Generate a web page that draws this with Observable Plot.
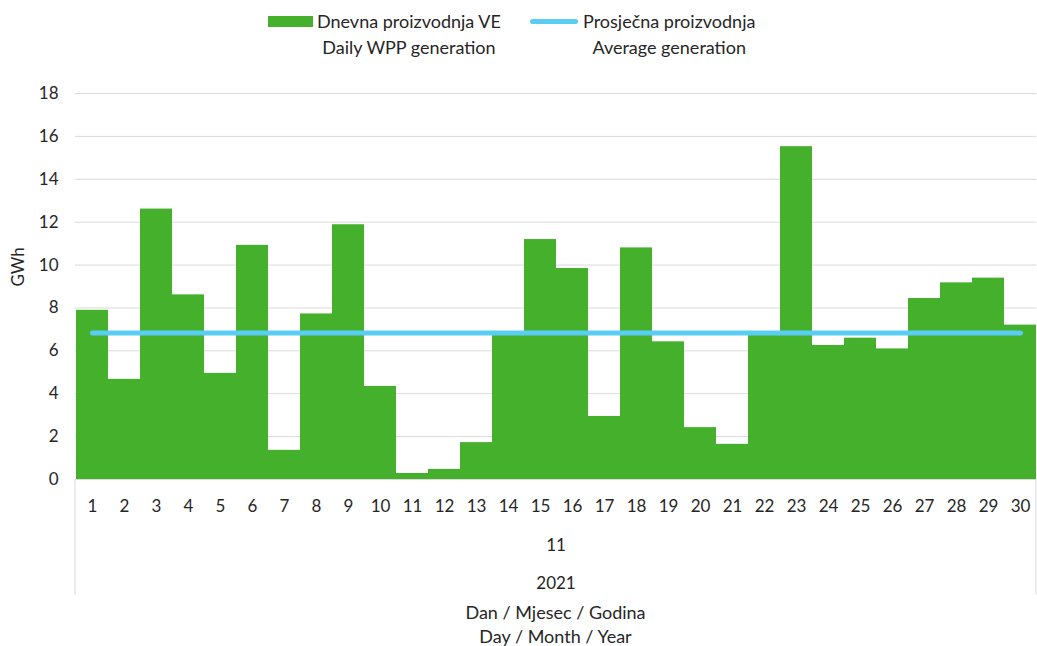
<!DOCTYPE html>
<html>
<head>
<meta charset="utf-8">
<script src="https://cdn.jsdelivr.net/npm/d3@7"></script>
<script src="https://cdn.jsdelivr.net/npm/@observablehq/plot@0.6"></script>
<style>
  body { margin: 0; background: #fff; font-family: Lato, sans-serif; color: #262626; }
  #legend { position: relative; height: 70px; width: 1037px; font-size: 18px; }
  .item { position: absolute; line-height: 26px; text-align: center; }
  .sw { position: absolute; }
</style>
</head>
<body>
<div id="legend"></div>
<div id="chart"></div>
<script>
const days = d3.range(1, 31);
const generation = [7.89, 4.67, 12.61, 8.61, 4.95, 10.92, 1.36, 7.72, 11.88, 4.34,
                    0.28, 0.47, 1.72, 6.72, 11.19, 9.84, 2.94, 10.80, 6.42, 2.42,
                    1.64, 6.72, 15.52, 6.25, 6.59, 6.09, 8.44, 9.17, 9.39, 7.20];
const average = 6.83;
const yTicks = [0, 2, 4, 6, 8, 10, 12, 14, 16, 18];
const monthLabel = "11";
const yearLabel = "2021";
const legendLabels = [["Dnevna proizvodnja VE", "Daily WPP generation"], ["Prosječna proizvodnja", "Average generation"]];
const axisTitle = ["Dan / Mjesec / Godina", "Day / Month / Year"];
const yLabel = "GWh";

const GREEN = "#44b02b";
const BLUE = "#5bcdf4";
const GRID = "#d9d9d9";
const FS = 17;

const data = days.map((d, i) => ({day: d, value: generation[i]}));

// legend
const lg = document.getElementById("legend");
lg.innerHTML = `
  <div class="sw" style="left:268px;top:16px;width:45px;height:11px;background:${GREEN}"></div>
  <div class="item" style="left:317px;top:8px">${legendLabels[0][0]}<br>${legendLabels[0][1]}</div>
  <div class="sw" style="left:530px;top:19px;width:48px;height:5px;border-radius:3px;background:${BLUE}"></div>
  <div class="item" style="left:583px;top:8px">${legendLabels[1][0]}<br>${legendLabels[1][1]}</div>
`;

const H = 576;
const ML = 75, MR = 1;
const plot = Plot.plot({
  width: 1037,
  height: H,
  marginTop: 23,
  marginBottom: 167,
  marginLeft: ML,
  marginRight: MR,
  style: {fontFamily: "Lato, sans-serif", fontSize: FS + "px", color: "#262626", background: "#fff"},
  x: {type: "band", domain: days, padding: 0, label: null},
  y: {domain: [0, 18], ticks: yTicks, label: null},
  marks: [
    Plot.gridY(yTicks, {stroke: GRID, strokeOpacity: 1, strokeWidth: 1}),
    Plot.barY(data, {x: "day", y: "value", fill: GREEN, inset: 0}),
    Plot.ruleY([0], {stroke: GRID, strokeWidth: 1}),
    Plot.lineY(data, {x: "day", y: () => average, stroke: BLUE, strokeWidth: 5, strokeLinecap: "round"}),
    Plot.axisY(yTicks, {tickSize: 0, tickPadding: 17, fontSize: FS, label: null}),
    Plot.axisX(days, {tickSize: 0, tickPadding: 20, fontSize: FS, label: null}),
    Plot.text([monthLabel], {frameAnchor: "bottom", dy: 71, fontSize: FS, fill: "#262626"}),
    Plot.text([yearLabel], {frameAnchor: "bottom", dy: 109, fontSize: FS, fill: "#262626"}),
    Plot.text([yLabel], {frameAnchor: "left", dx: -57, rotate: -90, fontSize: FS, fill: "#262626"})
  ]
});

// vertical category-axis separators at the frame edges, derived from the x scale
const xr = plot.scale("x").range;
const yr = plot.scale("y").range;
const svg = d3.select(plot);
[xr[0], xr[1]].forEach(x => {
  svg.append("line")
    .attr("x1", x).attr("x2", x)
    .attr("y1", yr[0]).attr("y2", yr[0] + 116)
    .attr("stroke", GRID).attr("stroke-width", 1);
});
document.getElementById("chart").appendChild(plot);

const cap = document.createElement("div");
cap.style.cssText = `position:absolute;left:${xr[0]}px;width:${xr[1] - xr[0]}px;text-align:center;font-size:18px;line-height:24px;top:600px;`;
cap.innerHTML = axisTitle.join("<br>");
document.body.appendChild(cap);
</script>
</body>
</html>
